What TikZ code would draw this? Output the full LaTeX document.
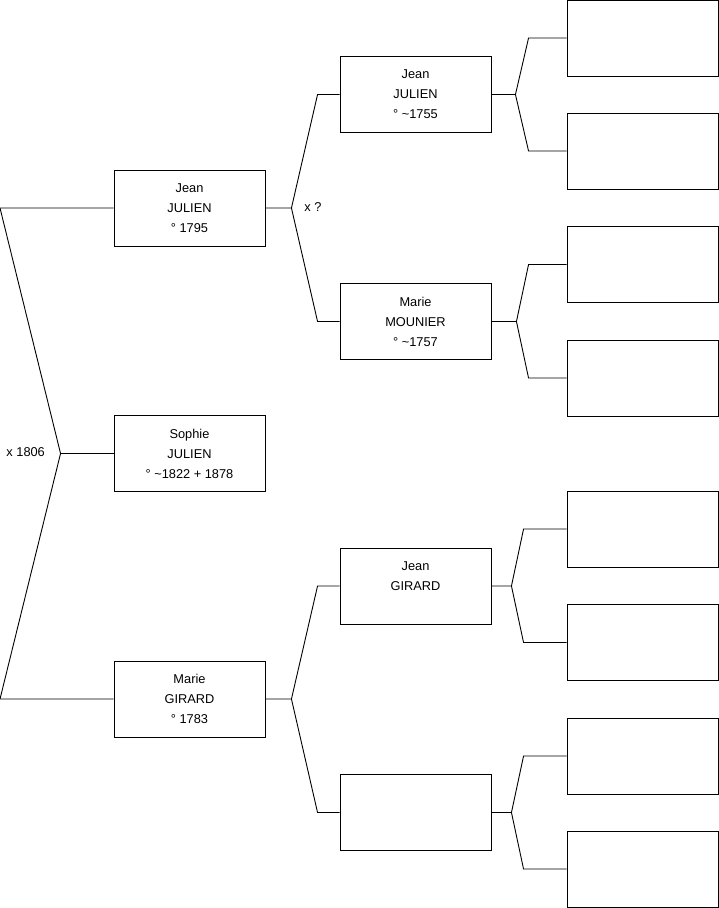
\documentclass[tikz,border=0pt]{standalone}
\usepackage{fontspec}
\setmainfont{Liberation Sans}
\usetikzlibrary{positioning}

\begin{document}
\begin{tikzpicture}[
  x=1pt,y=-1pt,
  font=\fontsize{12.8}{20}\selectfont,
  line width=0.9pt,
  pers/.style={draw,align=center,minimum width=151pt,minimum height=76pt,inner sep=0pt},
  lbl/.style={anchor=west,inner sep=0pt}]
\useasboundingbox (0,0) rectangle (719,908);
\coordinate (lft) at (0,0);
% generation 1
\node[pers] (s)  at (189.5,453.5) {Sophie\\JULIEN\\° \textasciitilde1822 + 1878};
\node[pers] (p1) at (189.5,208)   {Jean\\JULIEN\\° 1795};
\node[pers] (p2) at (189.5,699)   {Marie\\GIRARD\\° 1783};
% generation 2
\node[pers] (p11) at (415.5,94.5)  {Jean\\JULIEN\\° \textasciitilde1755};
\node[pers] (p12) at (415.5,321.5) {Marie\\MOUNIER\\° \textasciitilde1757};
\node[pers] (p21) at (415.5,586)   {Jean\\GIRARD\\\mbox{}};
\node[pers] (p22) at (415.5,812.5) {};
% generation 3
\foreach \y [count=\i] in {38,151,264.5,378,529,642.5,756,869}
  \node[pers] (g3\i) at (642.5,\y) {};
% marriages
\node[lbl] (mar1) at (6,452) {x 1806};
\node[lbl] (mar2) at (304,207) {x ?};
% links
\draw (s.west) -- ++(-53,0) coordinate (js);
\draw (p1.west) -- (p1.west -| lft) -- (js) -- (p2.west -| lft) -- (p2.west);
\foreach \c/\f/\m/\d/\b in {p1/p11/p12/26/22, p2/p21/p22/26/22,
    p11/g31/g32/24/38, p12/g33/g34/25/38, p21/g35/g36/20/43, p22/g37/g38/20/43}
  \draw (\f.west) -- ++(-\b,0) -- ([xshift=\d]\c.east) -- (\c.east)
        ([xshift=\d]\c.east) -- ([xshift=-\b]\m.west) -- (\m.west);
\end{tikzpicture}
\end{document}
